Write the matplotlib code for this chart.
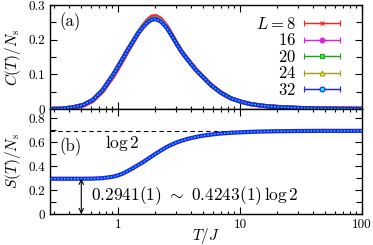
import numpy as np
import matplotlib
matplotlib.use("Agg")
import matplotlib.pyplot as plt
from matplotlib.ticker import FuncFormatter, MultipleLocator, LogLocator
from matplotlib.legend_handler import HandlerErrorbar
from matplotlib.container import ErrorbarContainer

plt.rcParams['font.family'] = 'serif'
plt.rcParams['font.serif'] = ['cmr10', 'DejaVu Serif']
plt.rcParams['mathtext.fontset'] = 'cm'
plt.rcParams['axes.formatter.use_mathtext'] = True

# temperatures T/J (same grid for every L)
T = [0.28, 0.35, 0.43, 0.52, 0.62, 0.75, 0.91, 1.0, 1.1, 1.2, 1.33, 1.46, 1.6,
     1.75, 1.9, 2.05, 2.25, 2.5, 2.72, 3.0, 3.28, 3.6, 3.97, 4.35, 4.78, 5.78,
     6.98, 8.4, 10.2, 12.3, 15.7, 20, 30, 45, 70, 100]

sizes = [8, 16, 20, 24, 32]

# specific heat C(T)/Ns
C8 = [0.0, 0.001, 0.004, 0.010, 0.023, 0.051, 0.093, 0.117, 0.142, 0.166, 0.193,
      0.218, 0.240, 0.257, 0.267, 0.268, 0.260, 0.240, 0.219, 0.192, 0.169, 0.150,
      0.131, 0.114, 0.098, 0.069, 0.047, 0.031, 0.021, 0.014, 0.009, 0.006, 0.003,
      0.0015, 0.0008, 0.0004]
C16 = [0.0, 0.001, 0.005, 0.012, 0.026, 0.055, 0.098, 0.122, 0.147, 0.170, 0.196,
       0.219, 0.238, 0.253, 0.262, 0.264, 0.256, 0.238, 0.217, 0.191, 0.168, 0.149,
       0.130, 0.113, 0.098, 0.069, 0.047, 0.031, 0.021, 0.014, 0.009, 0.006, 0.003,
       0.0015, 0.0008, 0.0004]
C20 = [0.0, 0.001, 0.005, 0.012, 0.026, 0.055, 0.099, 0.123, 0.148, 0.171, 0.197,
       0.220, 0.239, 0.253, 0.261, 0.262, 0.254, 0.236, 0.216, 0.190, 0.168, 0.149,
       0.130, 0.113, 0.098, 0.069, 0.047, 0.031, 0.021, 0.014, 0.009, 0.006, 0.003,
       0.0015, 0.0008, 0.0004]
C24 = [0.0, 0.001, 0.005, 0.012, 0.026, 0.055, 0.098, 0.122, 0.147, 0.170, 0.195,
       0.218, 0.237, 0.251, 0.259, 0.261, 0.255, 0.237, 0.216, 0.190, 0.168, 0.149,
       0.130, 0.113, 0.098, 0.069, 0.047, 0.031, 0.021, 0.014, 0.009, 0.006, 0.003,
       0.0015, 0.0008, 0.0004]
C32 = [0.0, 0.001, 0.005, 0.012, 0.026, 0.055, 0.098, 0.122, 0.147, 0.170, 0.195,
       0.218, 0.236, 0.250, 0.258, 0.259, 0.252, 0.235, 0.215, 0.190, 0.168, 0.149,
       0.130, 0.113, 0.098, 0.069, 0.047, 0.031, 0.021, 0.014, 0.009, 0.006, 0.003,
       0.0015, 0.0008, 0.0004]

# entropy S(T)/Ns (all sizes coincide on this scale)
S32 = [0.294, 0.294, 0.294, 0.294, 0.295, 0.299, 0.311, 0.322, 0.338, 0.358, 0.383,
       0.408, 0.432, 0.458, 0.482, 0.504, 0.530, 0.558, 0.576, 0.595, 0.609, 0.622,
       0.633, 0.642, 0.650, 0.662, 0.671, 0.677, 0.681, 0.685, 0.688, 0.690, 0.692,
       0.693, 0.693, 0.693]

S0 = 0.2941
LOG2 = np.log(2)

C_all = [C8, C16, C20, C24, C32]
colors = ['#ff2020', '#e020e0', '#20a020', '#a0a020', '#2020e8']
markers = ['x', 'o', 's', '^', 'o']
faces = ['#ff2020', '#e020e0', '#20ff20', '#ffff00', '#00ffff']

fig = plt.figure(figsize=(3.73, 2.45), dpi=100)
ax1 = fig.add_axes([0.134, 0.555, 0.8365, 0.4245])
ax2 = fig.add_axes([0.134, 0.1265, 0.8365, 0.4285])

fmt = FuncFormatter(lambda v, p: '%g' % v)

handles = []
for L, C, col, m, fc in zip(sizes, C_all, colors, markers, faces):
    ax1.plot(T, C, color=col, lw=3.0, solid_capstyle='round', zorder=2)
    if L == 32:
        ax1.plot(T, C, color='#00e0ff', lw=1.0, ls=(0, (1.2, 1.2)), zorder=3)
    h = ax1.errorbar([np.nan], [np.nan], xerr=[0.1], color=col, marker=m, ms=3.5,
                     mfc=fc, mec=col, mew=0.8, lw=0.9, capsize=2.5, elinewidth=0.9)
    handles.append(h)

labels = ['$L = %d$' % sizes[0]] + ['$%d$' % L for L in sizes[1:]]
ax1.legend(handles, labels, loc='upper right', frameon=False, markerfirst=False,
           fontsize=12, handlelength=2.2, handletextpad=0.45, labelspacing=0.03,
           borderaxespad=0.25, bbox_to_anchor=(0.965, 1.0),
           handler_map={ErrorbarContainer: HandlerErrorbar(xerr_size=1.1)})

ax2.plot(T, S32, color='#2020e8', lw=3.0, zorder=2)
ax2.plot(T, S32, color='#00e0ff', lw=1.0, ls=(0, (1.2, 1.2)), zorder=3)
ax2.axhline(LOG2, color='black', lw=0.8, ls=(0, (4, 3)), zorder=1)

ax2.annotate('', xy=(0.5, 0), xytext=(0.5, S0),
             arrowprops=dict(arrowstyle='<->', color='black', lw=0.8,
                             shrinkA=0, shrinkB=0, mutation_scale=8))
ax2.text(0.6, 0.15, r'$0.2941(1)\ \sim\ 0.4243(1)\,\log 2$', fontsize=12.5,
         va='center', ha='left')
ax2.text(0.78, 0.59, r'$\log 2$', fontsize=12.5, va='center', ha='left')

ax1.text(0.03, 0.80, '(a)', transform=ax1.transAxes, fontsize=12)
ax2.text(0.03, 0.52, '(b)', fontsize=12, transform=ax2.get_yaxis_transform())

for ax in (ax1, ax2):
    ax.set_xscale('log')
    ax.set_xlim(0.277, 100)
    ax.xaxis.set_major_locator(LogLocator(base=10))
    ax.xaxis.set_minor_locator(LogLocator(base=10, subs=np.arange(2, 10)))
    ax.xaxis.set_major_formatter(fmt)
    ax.yaxis.set_major_formatter(fmt)
    ax.tick_params(which='both', direction='in', top=True, right=True,
                   labelsize=9.5, width=0.8)
    ax.tick_params(which='major', length=5)
    ax.tick_params(axis='x', which='minor', length=2.5)
    ax.tick_params(axis='y', which='minor', length=4)
    for s in ax.spines.values():
        s.set_linewidth(1.0)

ax1.set_ylim(0, 0.3)
ax1.yaxis.set_major_locator(MultipleLocator(0.1))
ax1.yaxis.set_minor_locator(MultipleLocator(0.05))
ax1.tick_params(labelbottom=False)
ax1.set_ylabel(r'$C(T)/N_{\rm s}$', fontsize=11, labelpad=4)

ax2.set_ylim(0, 0.875)
ax2.yaxis.set_major_locator(MultipleLocator(0.2))
ax2.yaxis.set_minor_locator(MultipleLocator(0.1))
ax2.set_ylabel(r'$S(T)/N_{\rm s}$', fontsize=11, labelpad=4)
ax2.set_xlabel(r'$T/J$', fontsize=11, labelpad=-3.5)

fig.align_ylabels([ax1, ax2])
fig.savefig('out.png', dpi=100)
